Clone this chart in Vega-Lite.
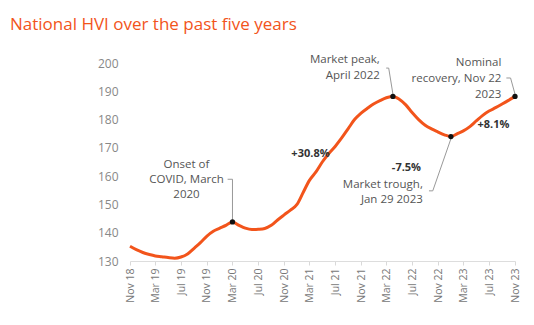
{
  "$schema": "https://vega.github.io/schema/vega-lite/v6.json",
  "width": 385,
  "height": 198,
  "autosize": {"type": "none"},
  "padding": {"left": 130, "top": 63, "right": 19, "bottom": 64},
  "background": "white",
  "title": {
    "text": "National HVI over the past five years",
    "anchor": "start",
    "frame": "group",
    "dx": -120,
    "offset": 20,
    "font": "Open Sans",
    "fontSize": 17,
    "fontWeight": "normal",
    "color": "#F2541B"
  },
  "config": {
    "view": {"stroke": null}
  },
  "datasets": {
    "hvi": [
      {"date": "2018-11-01", "value": 135.2},
      {"date": "2018-12-01", "value": 134.0},
      {"date": "2019-01-01", "value": 133.0},
      {"date": "2019-02-01", "value": 132.3},
      {"date": "2019-03-01", "value": 131.8},
      {"date": "2019-04-01", "value": 131.5},
      {"date": "2019-05-01", "value": 131.2},
      {"date": "2019-06-01", "value": 131.0},
      {"date": "2019-07-01", "value": 131.4},
      {"date": "2019-08-01", "value": 132.5},
      {"date": "2019-09-01", "value": 134.5},
      {"date": "2019-10-01", "value": 136.5},
      {"date": "2019-11-01", "value": 138.8},
      {"date": "2019-12-01", "value": 140.5},
      {"date": "2020-01-01", "value": 141.6},
      {"date": "2020-02-01", "value": 142.7},
      {"date": "2020-03-01", "value": 143.8},
      {"date": "2020-04-01", "value": 142.6},
      {"date": "2020-05-01", "value": 141.6},
      {"date": "2020-06-01", "value": 141.1},
      {"date": "2020-07-01", "value": 141.2},
      {"date": "2020-08-01", "value": 141.5},
      {"date": "2020-09-01", "value": 142.6},
      {"date": "2020-10-01", "value": 144.5},
      {"date": "2020-11-01", "value": 146.3},
      {"date": "2020-12-01", "value": 148.0},
      {"date": "2021-01-01", "value": 150.0},
      {"date": "2021-02-01", "value": 154.5},
      {"date": "2021-03-01", "value": 158.5},
      {"date": "2021-04-01", "value": 161.5},
      {"date": "2021-05-01", "value": 165.0},
      {"date": "2021-06-01", "value": 168.0},
      {"date": "2021-07-01", "value": 170.5},
      {"date": "2021-08-01", "value": 173.5},
      {"date": "2021-09-01", "value": 176.8},
      {"date": "2021-10-01", "value": 180.0},
      {"date": "2021-11-01", "value": 182.3},
      {"date": "2021-12-01", "value": 184.0},
      {"date": "2022-01-01", "value": 185.6},
      {"date": "2022-02-01", "value": 186.8},
      {"date": "2022-03-01", "value": 187.7},
      {"date": "2022-04-01", "value": 188.2},
      {"date": "2022-05-01", "value": 187.2},
      {"date": "2022-06-01", "value": 185.2},
      {"date": "2022-07-01", "value": 182.5},
      {"date": "2022-08-01", "value": 180.0},
      {"date": "2022-09-01", "value": 178.0},
      {"date": "2022-10-01", "value": 176.7},
      {"date": "2022-11-01", "value": 175.6},
      {"date": "2022-12-01", "value": 174.6},
      {"date": "2023-01-01", "value": 174.0},
      {"date": "2023-02-01", "value": 175.0},
      {"date": "2023-03-01", "value": 176.0},
      {"date": "2023-04-01", "value": 177.5},
      {"date": "2023-05-01", "value": 179.5},
      {"date": "2023-06-01", "value": 181.5},
      {"date": "2023-07-01", "value": 183.0},
      {"date": "2023-08-01", "value": 184.2},
      {"date": "2023-09-01", "value": 185.5},
      {"date": "2023-10-01", "value": 186.8},
      {"date": "2023-11-01", "value": 188.2}
    ],
    "markers": [
      {"date": "2020-03-01", "value": 143.8},
      {"date": "2022-04-01", "value": 188.2},
      {"date": "2023-01-01", "value": 174.0},
      {"date": "2023-11-01", "value": 188.2}
    ],
    "rules": [
      {"d1": "2020-02-07", "v1": 158.9, "d2": "2020-03-01", "v2": 158.9},
      {"d1": "2020-03-01", "v1": 158.9, "d2": "2020-03-01", "v2": 144.6},
      {"d1": "2022-02-28", "v1": 198.2, "d2": "2022-03-12", "v2": 198.2},
      {"d1": "2022-03-12", "v1": 198.2, "d2": "2022-04-01", "v2": 189.0},
      {"d1": "2023-09-21", "v1": 194.7, "d2": "2023-10-11", "v2": 194.7},
      {"d1": "2023-10-11", "v1": 194.7, "d2": "2023-11-01", "v2": 189.0},
      {"d1": "2022-09-19", "v1": 154.8, "d2": "2022-10-07", "v2": 154.8},
      {"d1": "2022-10-07", "v1": 154.8, "d2": "2023-01-01", "v2": 173.2}
    ],
    "rightLabels": [
      {"date": "2022-01-29", "value": 200.9, "label": "Market peak,"},
      {"date": "2022-01-29", "value": 195.5, "label": "April 2022"},
      {"date": "2023-08-28", "value": 200.0, "label": "Nominal"},
      {"date": "2023-08-28", "value": 194.3, "label": "recovery, Nov 22"},
      {"date": "2023-08-28", "value": 188.8, "label": "2023"},
      {"date": "2022-08-21", "value": 156.9, "label": "Market trough,"},
      {"date": "2022-08-21", "value": 151.6, "label": "Jan 29 2023"}
    ],
    "centerLabels": [
      {"date": "2019-07-27", "value": 164.0, "label": "Onset of"},
      {"date": "2019-07-27", "value": 158.6, "label": "COVID, March"},
      {"date": "2019-07-27", "value": 153.4, "label": "2020"}
    ],
    "pctLabels": [
      {"date": "2021-03-06", "value": 167.9, "label": "+30.8%"},
      {"date": "2022-06-04", "value": 162.8, "label": "-7.5%"},
      {"date": "2023-07-22", "value": 178.2, "label": "+8.1%"}
    ]
  },
  "layer": [
    {
      "data": {"name": "hvi"},
      "mark": {"type": "line", "color": "#F2541B", "strokeWidth": 3, "interpolate": "monotone"},
      "encoding": {
        "x": {
          "field": "date",
          "type": "temporal",
          "scale": {"type": "utc", "domain": ["2018-11-01", "2023-11-01"]},
          "axis": {
            "title": null,
            "format": "%b %y",
            "labelExpr": "(utcmonth(datum.value) + 2) % 4 == 0 ? datum.label : ''",
            "labelAngle": 270,
            "labelAlign": "right",
            "labelBaseline": "middle",
            "labelFont": "Open Sans",
            "labelFontSize": 10.5,
            "labelColor": "#777777",
            "labelPadding": 3,
            "labelOverlap": false,
            "labelFlush": false,
            "tickCount": {"interval": "month", "step": 1},
            "tickColor": "#d9d9d9",
            "tickOpacity": {"condition": {"test": "(utcmonth(datum.value) + 2) % 4 == 0", "value": 1}, "value": 0},
            "tickSize": 4,
            "domainColor": "#dddddd",
            "grid": false
          }
        },
        "y": {
          "field": "value",
          "type": "quantitative",
          "scale": {"domain": [130, 200], "zero": false, "nice": false},
          "axis": {
            "title": null,
            "tickCount": 7,
            "domain": false,
            "ticks": false,
            "grid": false,
            "labelOverlap": false,
            "labelFlush": false,
            "labelFont": "Open Sans",
            "labelFontSize": 12,
            "labelColor": "#888888",
            "labelPadding": 12
          }
        }
      }
    },
    {
      "data": {"name": "rules"},
      "mark": {"type": "rule", "color": "#999999", "strokeWidth": 1},
      "encoding": {
        "x": {"field": "d1", "type": "temporal"},
        "y": {"field": "v1", "type": "quantitative"},
        "x2": {"field": "d2"},
        "y2": {"field": "v2"}
      }
    },
    {
      "data": {"name": "markers"},
      "mark": {"type": "point", "filled": true, "color": "#111111", "size": 28, "opacity": 1},
      "encoding": {
        "x": {"field": "date", "type": "temporal"},
        "y": {"field": "value", "type": "quantitative"}
      }
    },
    {
      "data": {"name": "rightLabels"},
      "mark": {"type": "text", "align": "right", "baseline": "middle", "font": "Open Sans", "fontSize": 11.5, "color": "#555555"},
      "encoding": {
        "x": {"field": "date", "type": "temporal"},
        "y": {"field": "value", "type": "quantitative"},
        "text": {"field": "label"}
      }
    },
    {
      "data": {"name": "centerLabels"},
      "mark": {"type": "text", "align": "center", "baseline": "middle", "font": "Open Sans", "fontSize": 11.5, "color": "#555555"},
      "encoding": {
        "x": {"field": "date", "type": "temporal"},
        "y": {"field": "value", "type": "quantitative"},
        "text": {"field": "label"}
      }
    },
    {
      "data": {"name": "pctLabels"},
      "mark": {"type": "text", "align": "center", "baseline": "middle", "font": "Open Sans", "fontSize": 11, "fontWeight": "bold", "color": "#333333"},
      "encoding": {
        "x": {"field": "date", "type": "temporal"},
        "y": {"field": "value", "type": "quantitative"},
        "text": {"field": "label"}
      }
    }
  ]
}
